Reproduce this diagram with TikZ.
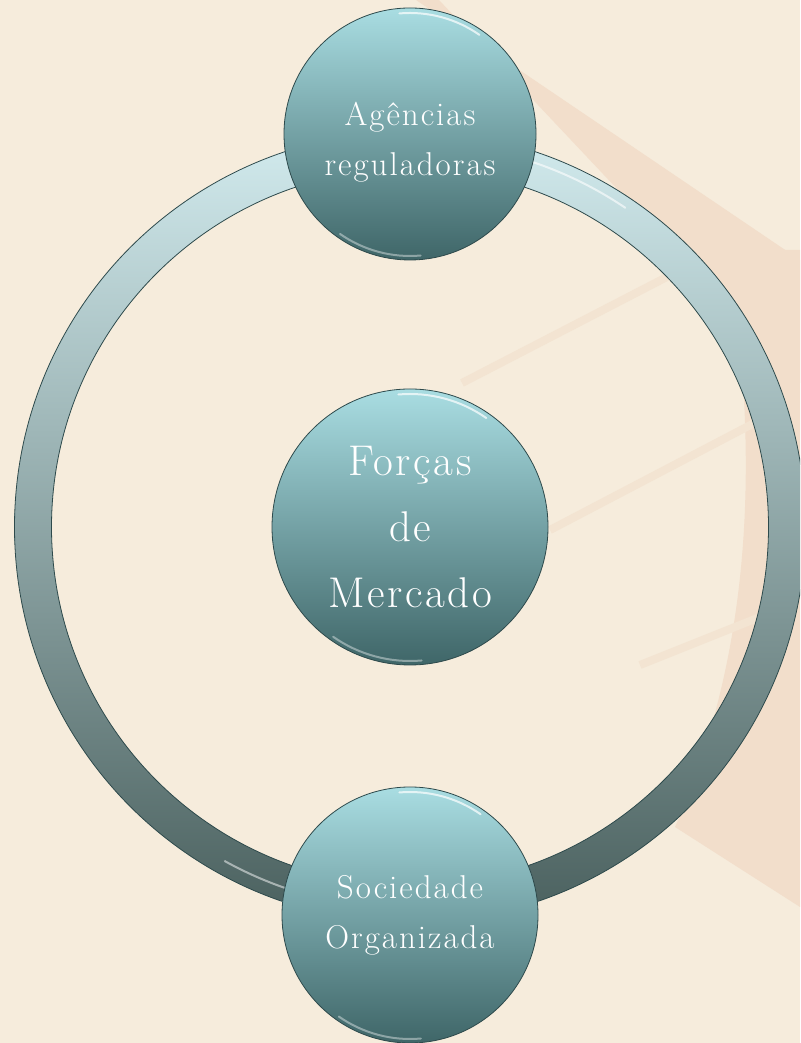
\documentclass[tikz,border=0pt]{standalone}
\usepackage{fontspec}
\usepackage{tikz}

\newfontfamily\bubblefont{Latin Modern Roman}[LetterSpace=6]

\definecolor{paper}{HTML}{F6ECDC}
\definecolor{peach}{HTML}{F2DECB}
\definecolor{streak}{HTML}{F3E4D2}
\definecolor{bubbletop}{HTML}{A9DDE2}
\definecolor{bubblebot}{HTML}{3F6668}
\definecolor{bubbleedge}{HTML}{2E4A4C}
\definecolor{ringtop}{HTML}{D2EBEE}
\definecolor{ringbot}{HTML}{4A605E}

\tikzset{
  bubble/.style={circle, draw=bubbleedge, line width=0.8pt, top color=bubbletop,
    bottom color=bubblebot, text=white, align=center, inner sep=0pt},
  bubbletext/.style={text=white, align=center, inner sep=0pt},
  small/.style={font=\bubblefont\fontsize{33}{50}\selectfont},
  big/.style={font=\bubblefont\fontsize{43}{66}\selectfont},
  gloss/.style={white, line width=2pt, line cap=round, opacity=.7},
}

\begin{document}
\begin{tikzpicture}[x=1pt,y=1pt]
\useasboundingbox (0,0) rectangle (800,1043);
\clip (0,0) rectangle (800,1043);
\fill[paper] (0,0) rectangle (800,1043);

% faint background shapes
\fill[peach] (416,1043) -- (800,783) -- (800,660) -- (439,1043) -- cycle;
\fill[peach] (728,793) .. controls (758,600) and (756,400) .. (675,216) -- (800,136) -- (800,793) -- cycle;
\foreach \a/\b in {{462,660}/{690,778}, {550,513}/{760,623}, {640,378}/{765,428}}
  \draw[streak, line width=8pt] (\a) -- (\b);

% the ring
\coordinate (ringc) at (410,516);
\path[top color=ringtop, bottom color=ringbot, even odd rule]
  (ringc) circle[radius=395.5] (ringc) circle[radius=358.5];
\draw[bubbleedge, line width=0.8pt] (ringc) circle[radius=395.5] (ringc) circle[radius=358.5];
\draw[gloss, opacity=.6] ([shift={(56:385)}]ringc) arc[start angle=56, end angle=72, radius=385];
\draw[gloss, opacity=.5] ([shift={(241:382)}]ringc) arc[start angle=241, end angle=251, radius=382];

% the three bubbles
\node[bubble, minimum size=252pt] (agencias) at (410,909) {};
\node[bubbletext, small] (agenciastext) at ([yshift=-8pt]agencias.center) {Agências\\reguladoras};
\node[bubble, big, minimum size=276pt] (forcas) at (410,516) {Forças\\de\\Mercado};
\node[bubble, small, minimum size=256pt] (sociedade) at (410,128) {Sociedade\\Organizada};

\foreach \n/\r in {agencias/126, forcas/138, sociedade/128} {
  \draw[gloss] ([shift={(55:\r-5)}]\n.center) arc[start angle=55, end angle=95, radius=\r-5];
  \draw[gloss, opacity=.4] ([shift={(235:\r-4)}]\n.center) arc[start angle=235, end angle=275, radius=\r-4];
}

\end{tikzpicture}
\end{document}
